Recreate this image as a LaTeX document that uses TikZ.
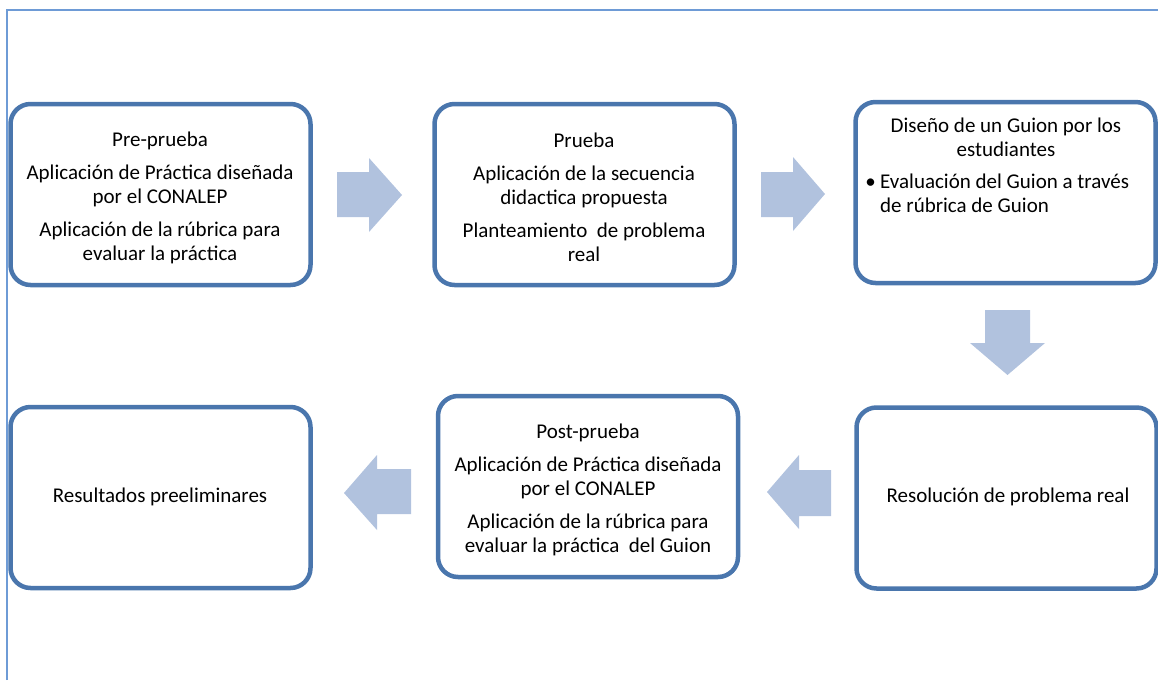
\documentclass[tikz,border=0pt]{standalone}
\usepackage{fontspec}
\setmainfont{Carlito}
\definecolor{boxblue}{HTML}{4A76AD}
\definecolor{arrowfill}{HTML}{B1C2DE}
\definecolor{framecol}{HTML}{6E9BD6}
\begin{document}
\begin{tikzpicture}[x=1pt,y=-1pt,
  stage/.style={draw=boxblue, line width=4.5pt, rounded corners=20pt, fill=white,
    minimum width=300pt, minimum height=181pt, inner sep=0pt},
  label/.style={align=center, font=\fontsize{21}{24}\selectfont, inner sep=0pt},
  blockarrow/.style={fill=arrowfill, draw=none}]
\useasboundingbox (0,0) rectangle (1158,680);
% frame
\draw[framecol, line width=1.3pt] (7,680) -- (7,10) -- (1160,10);
% boxes
\node[stage] (pre)  at (160.5,194.5) {};
\node[stage] (pru)  at (584.5,194.5) {};
\node[stage] (dis)  at (1005.5,192.5) {};
\node[stage] (res)  at (1006.5,498) {};
\node[stage] (post) at (588,486.5) {};
\node[stage] (fin)  at (160.5,497.5) {};
% texts
\node[label] (tpre) at (160,197.5) {Pre-prueba\\[9pt]Aplicación de Práctica diseñada\\por el CONALEP\\[9pt]Aplicación de la rúbrica para\\evaluar la práctica};
\node[label] (tpru) at (584,197.5) {Prueba\\[9pt]Aplicación de la secuencia\\didactica propuesta\\[9pt]Planteamiento\ \ de problema\\real};
\node[label] (tdis) at (1006,137) {Diseño de un Guion por los\\estudiantes};
\node[label, anchor=base east] (bul) at (876,188) {\textbullet};
\node[label, anchor=base west] (tbul1) at (880,188) {Evaluación del Guion a través};
\node[label, anchor=base west] (tbul2) at (880,212) {de rúbrica de Guion};
\node[label] (tres) at (1008,497) {Resolución de problema real};
\node[label] (tpost) at (588,489.5) {Post-prueba\\[9pt]Aplicación de Práctica diseñada\\por el CONALEP\\[9pt]Aplicación de la rúbrica para\\evaluar la práctica\ \ del Guion};
\node[label] (tfin) at (160,497) {Resultados preeliminares};
% block arrows
\fill[blockarrow] (337,172) -- (369,172) -- (369,158) -- (402,195) -- (369,232) -- (369,217) -- (337,217) -- cycle;
\fill[blockarrow] (761,172) -- (793,172) -- (793,157) -- (825,194) -- (793,231) -- (793,217) -- (761,217) -- cycle;
\fill[blockarrow] (985,310) -- (1030,310) -- (1030,343) -- (1045,343) -- (1007.5,375) -- (970,343) -- (985,343) -- cycle;
\fill[blockarrow] (831,470) -- (799,470) -- (799,455) -- (767,492) -- (799,529) -- (799,516) -- (831,516) -- cycle;
\fill[blockarrow] (411,469) -- (377,469) -- (377,455) -- (344,493) -- (377,530) -- (377,514) -- (411,514) -- cycle;
\end{tikzpicture}
\end{document}
